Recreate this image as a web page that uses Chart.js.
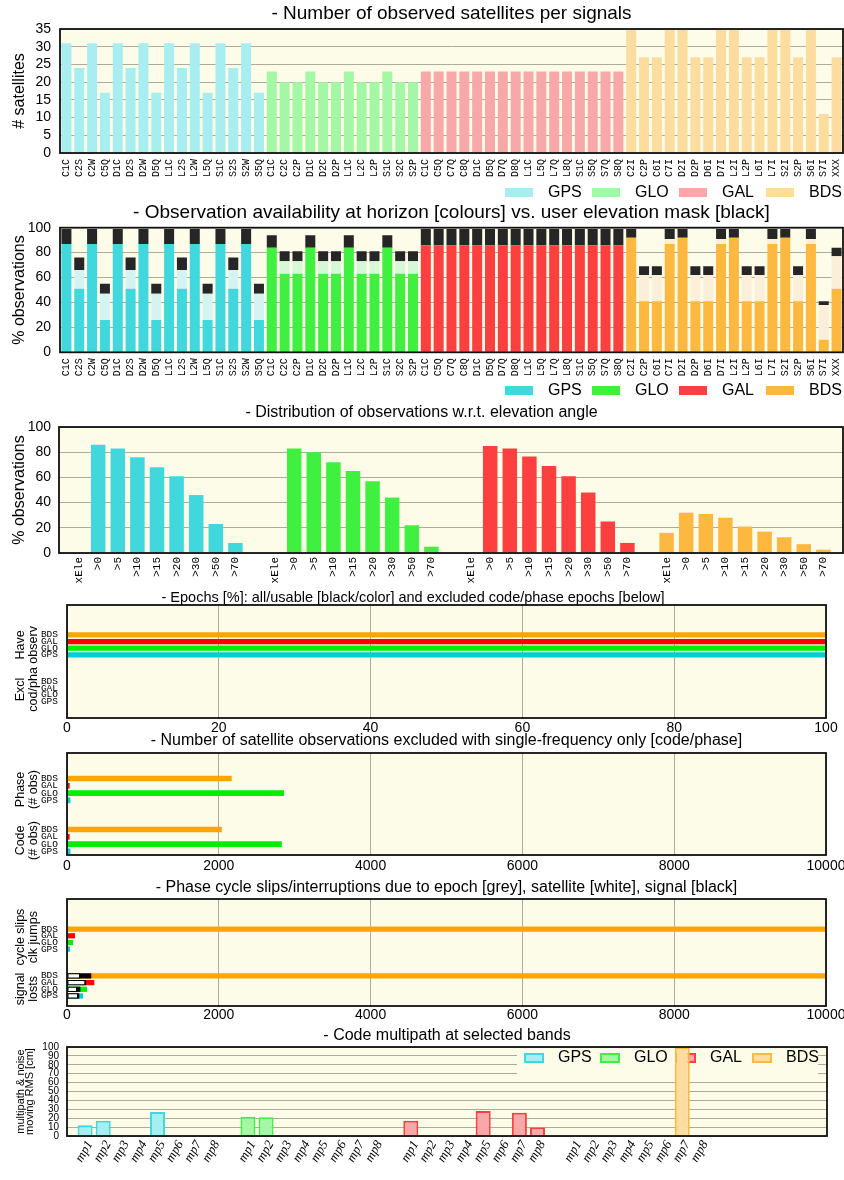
<!DOCTYPE html>
<html>
<head>
<meta charset="utf-8">
<title>GNSS observation summary</title>
<script src="https://cdn.jsdelivr.net/npm/chart.js@4.4.1/dist/chart.umd.min.js"></script>
<style>
  html, body { margin: 0; padding: 0; background: #fff; overflow: hidden; }
  canvas { position: absolute; left: 0; }
</style>
</head>
<body>
<canvas id="satChart" width="844" height="200" style="top:0px"></canvas>
<canvas id="availChart" width="844" height="200" style="top:200px"></canvas>
<canvas id="elevChart" width="844" height="192" style="top:400px"></canvas>
<canvas id="epochChart" width="844" height="158" style="top:582px"></canvas>
<canvas id="exclChart" width="844" height="154" style="top:726px"></canvas>
<canvas id="slipChart" width="844" height="156" style="top:872px"></canvas>
<canvas id="mpChart" width="844" height="158" style="top:1022px"></canvas>
<script>
// --- data ---
const systems = ['GPS', 'GLO', 'GAL', 'BDS'];

const gpsSignals = ['C1C', 'C2S', 'C2W', 'C5Q', 'D1C', 'D2S', 'D2W', 'D5Q', 'L1C', 'L2S', 'L2W', 'L5Q', 'S1C', 'S2S', 'S2W', 'S5Q'];
const gloSignals = ['C1C', 'C2C', 'C2P', 'D1C', 'D2C', 'D2P', 'L1C', 'L2C', 'L2P', 'S1C', 'S2C', 'S2P'];
const galSignals = ['C1C', 'C5Q', 'C7Q', 'C8Q', 'D1C', 'D5Q', 'D7Q', 'D8Q', 'L1C', 'L5Q', 'L7Q', 'L8Q', 'S1C', 'S5Q', 'S7Q', 'S8Q'];
const bdsSignals = ['C2I', 'C2P', 'C6I', 'C7I', 'D2I', 'D2P', 'D6I', 'D7I', 'L2I', 'L2P', 'L6I', 'L7I', 'S2I', 'S2P', 'S6I', 'S7I', 'XXX'];

// number of satellites per signal
const gpsSats = [31, 24, 31, 17, 31, 24, 31, 17, 31, 24, 31, 17, 31, 24, 31, 17];
const gloSats = [23, 20, 20, 23, 20, 20, 23, 20, 20, 23, 20, 20];
const galSats = [23, 23, 23, 23, 23, 23, 23, 23, 23, 23, 23, 23, 23, 23, 23, 23];
const bdsSats = [35, 27, 27, 35, 35, 27, 27, 35, 35, 27, 27, 35, 35, 27, 35, 11, 27];

// availability [%]: usable (colour), extra at horizon (light), removed by elevation mask (black)
const gpsUsable  = [87, 51, 87, 26, 87, 51, 87, 26, 87, 51, 87, 26, 87, 51, 87, 26];
const gpsHorizon = [0, 15, 0, 21, 0, 15, 0, 21, 0, 15, 0, 21, 0, 15, 0, 21];
const gpsMask    = [12, 10, 12, 8, 12, 10, 12, 8, 12, 10, 12, 8, 12, 10, 12, 8];
const gloUsable  = [84, 63, 63, 84, 63, 63, 84, 63, 63, 84, 63, 63];
const gloHorizon = [0, 10, 10, 0, 10, 10, 0, 10, 10, 0, 10, 10];
const gloMask    = [10, 8, 8, 10, 8, 8, 10, 8, 8, 10, 8, 8];
const galUsable  = [86, 86, 86, 86, 86, 86, 86, 86, 86, 86, 86, 86, 86, 86, 86, 86];
const galHorizon = [0, 0, 0, 0, 0, 0, 0, 0, 0, 0, 0, 0, 0, 0, 0, 0];
const galMask    = [13, 13, 13, 13, 13, 13, 13, 13, 13, 13, 13, 13, 13, 13, 13, 13];
const bdsUsable  = [92, 41, 41, 87, 92, 41, 41, 87, 92, 41, 41, 87, 92, 41, 87, 10, 51];
const bdsHorizon = [0, 21, 21, 4, 0, 21, 21, 4, 0, 21, 21, 4, 0, 21, 4, 28, 26];
const bdsMask    = [7, 7, 7, 8, 7, 7, 7, 8, 7, 7, 7, 8, 7, 7, 8, 3, 7];

// distribution w.r.t. elevation angle [%]
const elevLabels = ['xEle', '>0', '>5', '>10', '>15', '>20', '>30', '>50', '>70'];
const gpsElev = [0, 86, 83, 76, 68, 61, 46, 23, 8];
const gloElev = [0, 83, 80, 72, 65, 57, 44, 22, 5];
const galElev = [0, 85, 83, 76.5, 69, 61, 48, 25, 8];
const bdsElev = [16, 32, 31, 28, 21, 17, 12.5, 7, 2.7];

// per-system rows (top to bottom)
const rowSystems = ['BDS', 'GAL', 'GLO', 'GPS'];
const haveObserv = [100, 100, 100, 100];
const exclCodPha = [0, 0, 0, 0];
const phaseExcl = [2170, 35, 2860, 45];
const codeExcl = [2040, 35, 2830, 45];
const cycleSlips = [10000, 105, 80, 40];
const lostSatellite = [171, 241, 132, 145];
const lostSignal = [320, 251, 176, 162];
const lostTotal = [10000, 360, 263, 211];

// code multipath RMS [cm]
const mpLabels = ['mp1', 'mp2', 'mp3', 'mp4', 'mp5', 'mp6', 'mp7', 'mp8'];
const gpsMp = [12, 17, null, null, 27, null, null, null];
const gloMp = [21.5, 21, null, null, null, null, null, null];
const galMp = [17, null, null, null, 28, null, 26, 9.5];
const bdsMp = [null, null, null, null, null, null, 100, null];

// --- styles ---
const CREAM = '#fdfce9';
const GRID = '#aeab9b';
const SANS = "'Liberation Sans', Arial, Helvetica, sans-serif";
const MONO = "'Liberation Mono', 'DejaVu Sans Mono', monospace";
const SERIF = "'Liberation Serif', 'DejaVu Serif', serif";
const pastel = ['#a8eef0', '#a4f7a4', '#f8a8a8', '#fddca0'];
const strong = ['#40d8dc', '#40f040', '#fc4040', '#fdb840'];
const tint = ['#d4f4f4', '#d6f8d6', '#fcd4d4', '#fcefd9'];
const MASK = '#262626';
const rowColors = ['#ffa500', '#ff0000', '#00ee00', '#00ced1'];

Chart.defaults.color = '#000';
Chart.defaults.font.family = SANS;
Chart.defaults.animation = false;
Chart.defaults.events = [];
Chart.defaults.plugins.legend.display = false;
Chart.defaults.plugins.tooltip.enabled = false;

// cream plot background + black frame
const plotFrame = {
    id: 'plotFrame',
    beforeDraw(chart) {
        const { ctx, chartArea: a } = chart;
        ctx.save();
        ctx.fillStyle = CREAM;
        ctx.fillRect(a.left, a.top, a.width, a.height);
        ctx.restore();
    },
    afterDatasetsDraw(chart) {
        const { ctx, chartArea: a } = chart;
        ctx.save();
        ctx.strokeStyle = '#111';
        ctx.lineWidth = 1.8;
        ctx.strokeRect(a.left, a.top, a.width, a.height);
        ctx.restore();
    }
};

// gnuplot-like legend: box + label, drawn under the bars
const boxLegend = {
    id: 'boxLegend',
    beforeDatasetsDraw(chart, args, opts) {
        if (!opts.pick) return;
        const ctx = chart.ctx;
        ctx.save();
        if (opts.background) {
            const b = opts.background;
            ctx.fillStyle = CREAM;
            ctx.fillRect(b[0], b[1], b[2], b[3]);
        }
        ctx.font = opts.labelFont;
        ctx.textBaseline = 'middle';
        ctx.textAlign = 'left';
        opts.pick.forEach((di, i) => {
            const ds = chart.data.datasets[di];
            const x = opts.x + i * opts.step;
            const y = opts.y;
            ctx.fillStyle = ds.backgroundColor;
            ctx.fillRect(x, y - opts.boxH / 2, opts.boxW, opts.boxH);
            if (opts.border) {
                ctx.strokeStyle = ds.borderColor;
                ctx.lineWidth = opts.border;
                ctx.strokeRect(x, y - opts.boxH / 2, opts.boxW, opts.boxH);
            }
            ctx.fillStyle = '#000';
            ctx.fillText(ds.label, x + opts.boxW + opts.gap, y);
        });
        ctx.restore();
    }
};

// rotated two-line group labels left of the row ticks
const rowGroups = {
    id: 'rowGroups',
    afterDraw(chart, args, opts) {
        if (!opts.groups) return;
        const ctx = chart.ctx;
        const ys = chart.scales.y;
        ctx.save();
        ctx.font = opts.labelFont;
        ctx.fillStyle = '#000';
        ctx.textAlign = 'center';
        ctx.textBaseline = 'middle';
        opts.groups.forEach(g => {
            const nudge = typeof g.nudgeY === 'number' ? g.nudgeY : 0;
            const yc = (ys.getPixelForValue(g.rows[0]) + ys.getPixelForValue(g.rows[1])) / 2 + nudge;
            g.lines.forEach((line, j) => {
                ctx.save();
                ctx.translate(opts.x[j], yc);
                ctx.rotate(-Math.PI / 2);
                ctx.fillText(line, 0, 0);
                ctx.restore();
            });
        });
        ctx.restore();
    }
};

Chart.register(plotFrame, boxLegend, rowGroups);

function placeAt(n, start, values) {
    const out = new Array(n).fill(null);
    values.forEach((v, i) => { out[start + i] = v; });
    return out;
}
function mergeRows(a, b) {
    return a.map((v, i) => (v !== null ? v : b[i]));
}
// fixed axis boxes so every plot frame lands where the reference has it
function fixWidth(w) { return scale => { scale.width = w; scale.paddingTop = 0; scale.paddingBottom = 0; }; }
function fixHeight(h) { return scale => { scale.height = h; scale.paddingLeft = 0; scale.paddingRight = 0; }; }
function rowLabels(n, starts) {
    const out = new Array(n).fill('');
    starts.forEach(s => rowSystems.forEach((name, i) => { out[s + i] = name; }));
    return out;
}
function titleOpts(text, size, top, bottom, overPlot) {
    return {
        display: true, text: text, fullSize: !overPlot,
        font: { size: size, lineHeight: 1, weight: 'normal' },
        padding: { top: top, bottom: bottom }
    };
}

// --- 1: satellites per signal ---
const sigGroups = [gpsSignals, gloSignals, galSignals, bdsSignals];
const sigLabels = [].concat(...sigGroups);
const sigStart = [];
sigGroups.reduce((acc, g) => { sigStart.push(acc); return acc + g.length; }, 0);
const satSeries = [gpsSats, gloSats, galSats, bdsSats];

new Chart(document.getElementById('satChart'), {
    type: 'bar',
    data: {
        labels: sigLabels,
        datasets: systems.map((name, k) => ({
            label: name,
            data: placeAt(sigLabels.length, sigStart[k], satSeries[k]),
            backgroundColor: pastel[k],
            grouped: false,
            categoryPercentage: 1,
            barPercentage: 0.78
        }))
    },
    options: {
        responsive: false,
        layout: { padding: { right: 1 } },
        plugins: {
            title: titleOpts('- Number of observed satellites per signals', 19, 4.5, 5.5, true),
            boxLegend: { pick: [0, 1, 2, 3], x: 505, y: 192.5, step: 87, boxW: 28, boxH: 9, gap: 15, labelFont: '16px ' + SANS }
        },
        scales: {
            x: {
                grid: { display: false, drawTicks: false },
                border: { display: false },
                ticks: { autoSkip: false, minRotation: 90, maxRotation: 90, padding: 6, font: { family: MONO, size: 10 } },
                afterFit: fixHeight(47)
            },
            y: {
                min: 0, max: 35,
                border: { display: false },
                grid: { color: GRID, drawTicks: false },
                ticks: { stepSize: 5, autoSkip: false, padding: 9, font: { size: 14 } },
                title: { display: true, text: '# satellites', font: { size: 16, lineHeight: 1 }, padding: { top: 12, bottom: 0 } },
                afterFit: fixWidth(60)
            }
        }
    }
});

// --- 2: availability at horizon vs elevation mask ---
const availSeries = [
    [gpsUsable, gpsHorizon, gpsMask],
    [gloUsable, gloHorizon, gloMask],
    [galUsable, galHorizon, galMask],
    [bdsUsable, bdsHorizon, bdsMask]
];
const availDatasets = [];
systems.forEach((name, k) => {
    const fills = [strong[k], tint[k], MASK];
    const names = [name, name + ' horizon', name + ' mask'];
    availSeries[k].forEach((vals, j) => {
        availDatasets.push({
            label: names[j],
            data: placeAt(sigLabels.length, sigStart[k], vals),
            backgroundColor: fills[j],
            categoryPercentage: 1,
            barPercentage: 0.78
        });
    });
});

new Chart(document.getElementById('availChart'), {
    type: 'bar',
    data: { labels: sigLabels, datasets: availDatasets },
    options: {
        responsive: false,
        layout: { padding: { right: 1 } },
        plugins: {
            title: titleOpts('- Observation availability at horizon [colours] vs. user elevation mask [black]', 19, 3.5, 5.2, true),
            boxLegend: { pick: [0, 3, 6, 9], x: 505, y: 190.5, step: 87, boxW: 28, boxH: 9, gap: 15, labelFont: '16px ' + SANS }
        },
        scales: {
            x: {
                stacked: true,
                grid: { display: false, drawTicks: false },
                border: { display: false },
                ticks: { autoSkip: false, minRotation: 90, maxRotation: 90, padding: 6, font: { family: MONO, size: 10 } },
                afterFit: fixHeight(47.7)
            },
            y: {
                stacked: true,
                min: 0, max: 100,
                border: { display: false },
                grid: { color: GRID, drawTicks: false },
                ticks: { stepSize: 20, autoSkip: false, padding: 9, font: { size: 14 } },
                title: { display: true, text: '% observations', font: { size: 16, lineHeight: 1 }, padding: { top: 12, bottom: 0 } },
                afterFit: fixWidth(60)
            }
        }
    }
});

// --- 3: distribution w.r.t. elevation angle ---
const elevSeries = [gpsElev, gloElev, galElev, bdsElev];
const elevAxis = [''];
const elevStart = [];
elevSeries.forEach(() => { elevStart.push(elevAxis.length); elevAxis.push(...elevLabels, ''); });

new Chart(document.getElementById('elevChart'), {
    type: 'bar',
    data: {
        labels: elevAxis,
        datasets: systems.map((name, k) => ({
            label: name,
            data: placeAt(elevAxis.length, elevStart[k], elevSeries[k]),
            backgroundColor: strong[k],
            grouped: false,
            categoryPercentage: 1,
            barPercentage: 0.74
        }))
    },
    options: {
        responsive: false,
        layout: { padding: { right: 1 } },
        plugins: {
            title: titleOpts('- Distribution of observations w.r.t. elevation angle', 16, 5, 6, false)
        },
        scales: {
            x: {
                offset: false,
                grid: { display: false, drawTicks: false },
                border: { display: false },
                ticks: { autoSkip: false, minRotation: 90, maxRotation: 90, padding: 4, font: { family: MONO, size: 11 } },
                afterFit: fixHeight(39)
            },
            y: {
                min: 0, max: 100,
                border: { display: false },
                grid: { color: GRID, drawTicks: false },
                ticks: { stepSize: 20, autoSkip: false, padding: 8, font: { size: 14 } },
                title: { display: true, text: '% observations', font: { size: 16, lineHeight: 1 }, padding: { top: 12, bottom: 0 } },
                afterFit: fixWidth(59)
            }
        }
    }
});

// --- 4..6: horizontal per-system bars ---
function rowScales(max, step, xHeight, tickPad) {
    return {
        x: {
            min: 0, max: max,
            border: { display: false },
            grid: { color: GRID, drawTicks: false },
            ticks: { stepSize: step, padding: tickPad, font: { size: 14 }, format: { useGrouping: false } },
            afterFit: fixHeight(xHeight)
        },
        y: {
            grid: { display: false, drawTicks: false },
            border: { display: false },
            ticks: { autoSkip: false, padding: 9, font: { family: MONO, size: 9.5 } },
            afterFit: fixWidth(67)
        }
    };
}
const groupFont = '12.5px ' + SANS;

const epochRows = rowLabels(17, [4, 11]);
new Chart(document.getElementById('epochChart'), {
    type: 'bar',
    data: {
        labels: epochRows,
        datasets: [
            { label: 'have observ', data: placeAt(17, 4, haveObserv), backgroundColor: placeAt(17, 4, rowColors), grouped: false, categoryPercentage: 1, barPercentage: 0.78 },
            { label: 'excl cod/pha', data: placeAt(17, 11, exclCodPha), backgroundColor: placeAt(17, 11, rowColors), grouped: false, categoryPercentage: 1, barPercentage: 0.78 }
        ]
    },
    options: {
        indexAxis: 'y',
        responsive: false,
        layout: { padding: { right: 18 } },
        plugins: {
            title: titleOpts('- Epochs [%]: all/usable [black/color] and excluded code/phase epochs [below]', 14.5, 8.5, 0, false),
            rowGroups: { labelFont: groupFont, x: [21, 34], groups: [
                { lines: ['Have', 'observ'], rows: [4, 7], nudgeY: 0 },
                { lines: ['Excl', 'cod/pha'], rows: [11, 14], nudgeY: -2 }
            ] }
        },
        scales: rowScales(100, 20, 22, 2)
    }
});

const exclRows = rowLabels(14, [3, 10]);
new Chart(document.getElementById('exclChart'), {
    type: 'bar',
    data: {
        labels: exclRows,
        datasets: [{
            label: 'excluded',
            data: mergeRows(placeAt(14, 3, phaseExcl), placeAt(14, 10, codeExcl)),
            backgroundColor: mergeRows(placeAt(14, 3, rowColors), placeAt(14, 10, rowColors)),
            categoryPercentage: 1,
            barPercentage: 0.78
        }]
    },
    options: {
        indexAxis: 'y',
        responsive: false,
        layout: { padding: { right: 18 } },
        plugins: {
            title: titleOpts('- Number of satellite observations excluded with single-frequency only [code/phase]', 16, 6.5, 4.5, true),
            rowGroups: { labelFont: groupFont, x: [21, 34], groups: [
                { lines: ['Phase', '(# obs)'], rows: [3, 6], nudgeY: 0 },
                { lines: ['Code', '(# obs)'], rows: [10, 13], nudgeY: 0 }
            ] }
        },
        scales: rowScales(10000, 2000, 25, 3)
    }
});

const slipRows = rowLabels(16, [4, 11]);
new Chart(document.getElementById('slipChart'), {
    type: 'bar',
    data: {
        labels: slipRows,
        datasets: [
            { label: 'satellite', data: placeAt(16, 11, lostSatellite), backgroundColor: '#ffffff', borderColor: '#000', borderWidth: 1, borderSkipped: false, grouped: false, categoryPercentage: 1, barPercentage: 0.78 },
            { label: 'signal', data: placeAt(16, 11, lostSignal), backgroundColor: '#000', grouped: false, categoryPercentage: 1, barPercentage: 0.78 },
            {
                label: 'total',
                data: mergeRows(placeAt(16, 4, cycleSlips), placeAt(16, 11, lostTotal)),
                backgroundColor: mergeRows(placeAt(16, 4, rowColors), placeAt(16, 11, rowColors)),
                grouped: false, categoryPercentage: 1, barPercentage: 0.78
            }
        ]
    },
    options: {
        indexAxis: 'y',
        responsive: false,
        layout: { padding: { right: 18 } },
        plugins: {
            title: titleOpts('- Phase cycle slips/interruptions due to epoch [grey], satellite [white], signal [black]', 16, 7.5, 3.5, true),
            rowGroups: { labelFont: groupFont, x: [21, 34], groups: [
                { lines: ['cycle slips', 'clk jumps'], rows: [4, 7], nudgeY: -2 },
                { lines: ['signal', 'losts'], rows: [11, 14], nudgeY: 3 }
            ] }
        },
        scales: rowScales(10000, 2000, 22, 1)
    }
});

// --- 7: code multipath ---
const mpSeries = [gpsMp, gloMp, galMp, bdsMp];
const mpAxis = [''];
const mpStart = [];
mpSeries.forEach(() => { mpStart.push(mpAxis.length); mpAxis.push(...mpLabels, ''); });
mpAxis.push('', '', '', '', '', '');

new Chart(document.getElementById('mpChart'), {
    type: 'bar',
    data: {
        labels: mpAxis,
        datasets: systems.map((name, k) => ({
            label: name,
            data: placeAt(mpAxis.length, mpStart[k], mpSeries[k]),
            backgroundColor: pastel[k],
            borderColor: strong[k],
            borderWidth: 2,
            grouped: false,
            categoryPercentage: 1,
            barPercentage: 0.83
        }))
    },
    options: {
        responsive: false,
        layout: { padding: { right: 17 } },
        plugins: {
            title: titleOpts('- Code multipath at selected bands', 16, 6, 3, true),
            boxLegend: { pick: [0, 1, 2, 3], x: 525, y: 36, step: 76, boxW: 18, boxH: 8, gap: 15, border: 2,
                labelFont: '16px ' + SANS, background: [517, 25.8, 301, 30.5] }
        },
        scales: {
            x: {
                offset: false,
                grid: { display: false, drawTicks: false },
                border: { display: false },
                ticks: { autoSkip: false, minRotation: 60, maxRotation: 60, padding: 2, labelOffset: 5, font: { family: SERIF, size: 13, style: 'italic' } },
                afterFit: fixHeight(44)
            },
            y: {
                min: 0, max: 100,
                border: { display: false },
                grid: { color: GRID, drawTicks: false },
                ticks: { stepSize: 10, autoSkip: false, padding: 8, font: { size: 10, lineHeight: 1 } },
                title: { display: true, text: ['multipath & noise', 'moving RMS [cm]'], font: { size: 11, lineHeight: 0.87 }, padding: { top: 16, bottom: 0 } },
                afterFit: fixWidth(67)
            }
        }
    }
});
</script>
</body>
</html>
